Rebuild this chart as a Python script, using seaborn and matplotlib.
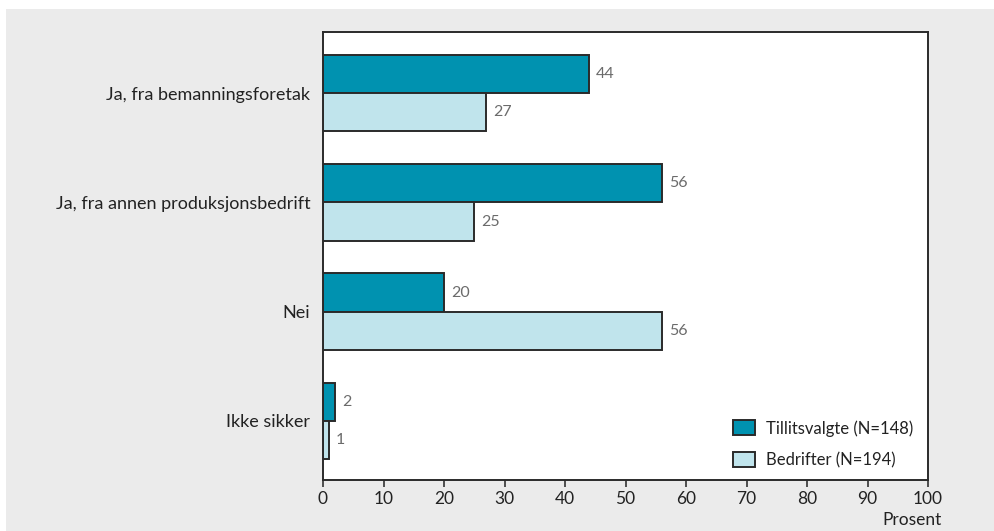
import seaborn as sns
import pandas as pd
import matplotlib.pyplot as plt
from matplotlib.patches import Rectangle

categories = ["Ja, fra bemanningsforetak", "Ja, fra annen produksjonsbedrift", "Nei", "Ikke sikker"]
tillitsvalgte = [44, 56, 20, 2]
bedrifter = [27, 25, 56, 1]
series_names = ["Tillitsvalgte (N=148)", "Bedrifter (N=194)"]
x_ticks = [0, 10, 20, 30, 40, 50, 60, 70, 80, 90, 100]

df = pd.DataFrame({
    "kategori": categories * 2,
    "prosent": tillitsvalgte + bedrifter,
    "gruppe": [series_names[0]] * len(categories) + [series_names[1]] * len(categories),
})

sns.set_style("white")
plt.rcParams["font.family"] = ["Lato", "DejaVu Sans"]

fig = plt.figure(figsize=(9.94, 5.31), dpi=100)
fig.patch.set_facecolor("white")
# grey panel behind the chart
fig.patches.append(Rectangle((6 / 994, 0), 1, 1 - 9 / 531, transform=fig.transFigure,
                             facecolor="#ebebeb", edgecolor="none", zorder=-10))
ax = fig.add_axes([323 / 994, 1 - 480 / 531, 605 / 994, 448 / 531])

palette = ["#0092b0", "#c0e4ec"]
sns.barplot(data=df, x="prosent", y="kategori", hue="gruppe", orient="h",
            palette=palette, width=0.7, edgecolor="#2a2a2a", linewidth=1.4,
            saturation=1, ax=ax)

for cont in ax.containers:
    ax.bar_label(cont, padding=5, color="#6b6b6b", fontsize=11.5)

ax.set_xlim(0, 100)
ax.set_ylim(3.54, -0.56)
ax.set_xticks(x_ticks)
ax.tick_params(axis="x", direction="out", length=5, width=1.2, color="#333333",
               labelsize=12.5, labelcolor="#222222", pad=3, bottom=True)
ax.tick_params(axis="y", length=0, labelsize=13, labelcolor="#222222", pad=9)
ax.set_ylabel("")
ax.set_xlabel("Prosent", loc="right", fontsize=12.5, color="#222222")
ax.xaxis.set_label_coords(1.022, -0.072)
for sp in ax.spines.values():
    sp.set_color("#2a2a2a")
    sp.set_linewidth(1.4)

leg = ax.legend(loc="lower right", frameon=False, fontsize=12, handlelength=1.3,
                handleheight=1.0, handletextpad=0.65, labelspacing=0.95,
                bbox_to_anchor=(1.0, -0.008))
for t in leg.get_texts():
    t.set_color("#222222")

fig.savefig("out.png", dpi=100)
